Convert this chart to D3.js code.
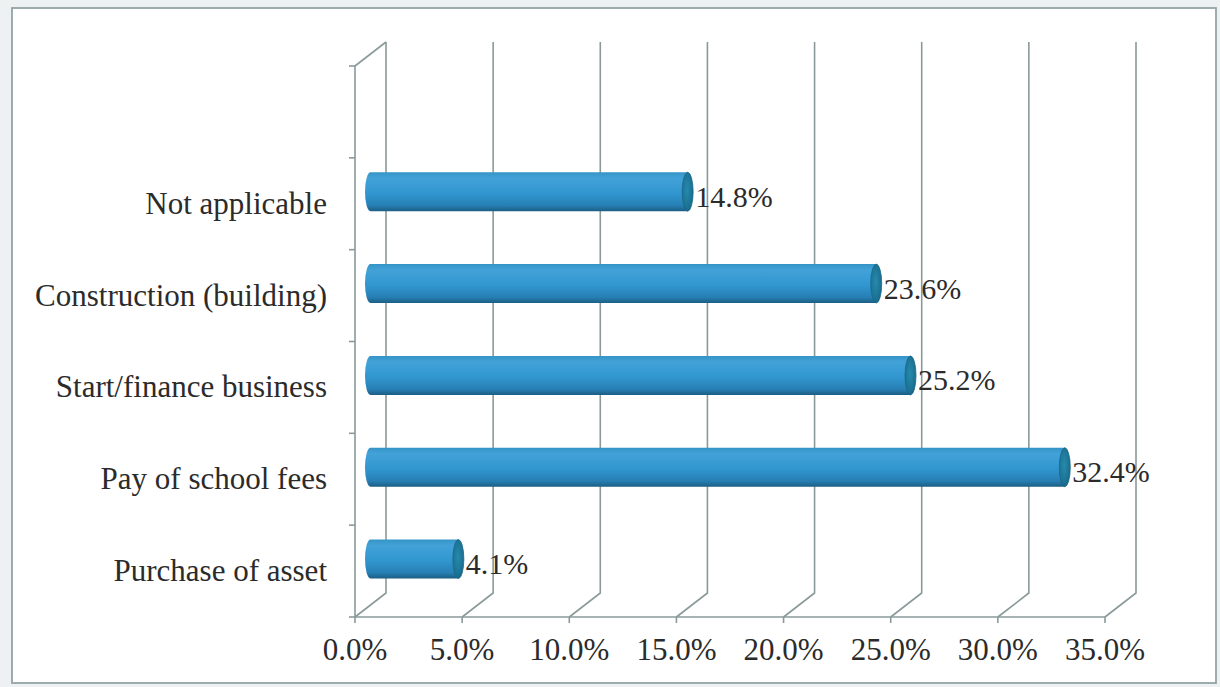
<!DOCTYPE html>
<html>
<head>
<meta charset="utf-8">
<script src="https://cdn.jsdelivr.net/npm/d3@7"></script>
<style>
  html, body { margin: 0; padding: 0; background: #eef1f1; }
  svg { display: block; }
  text { font-family: "Liberation Serif", "Times New Roman", serif; fill: #2b2b2b; }
</style>
</head>
<body>
<svg id="chart" width="1220" height="687"></svg>
<script>
// Uses of remittance money (share of respondents)
const categories = ["Purchase of asset", "Pay of school fees", "Start/finance business", "Construction (building)", "Not applicable"];
const values = [4.1, 32.4, 25.2, 23.6, 14.8];
const tickValues = [0, 5, 10, 15, 20, 25, 30, 35];
const tickLabels = ["0.0%", "5.0%", "10.0%", "15.0%", "20.0%", "25.0%", "30.0%", "35.0%"];

const svg = d3.select("#chart");

// frame
svg.append("rect").attr("x", 12).attr("y", 8).attr("width", 1204).attr("height", 675)
  .attr("fill", "#ffffff").attr("stroke", "#93a3a3").attr("stroke-width", 1.8);

// front plane and depth offset of the 3-D box
const x = d3.scaleLinear().domain([0, 35]).range([355, 1105]);
const yTop = 66, yBottom = 617;
const depthX = 31, depthY = -24;

// one empty slot above the last category
const slots = [...categories, "__blank"].reverse();
const y = d3.scaleBand().domain(slots).range([yTop, yBottom]).paddingInner(0).paddingOuter(0);

const gridColor = "#8a9a9a";
const grid = svg.append("g").attr("fill", "none").attr("stroke", gridColor).attr("stroke-width", 1.6);

// back-wall gridlines with their floor diagonals
tickValues.forEach(v => {
  const bx = x(v) + depthX;
  grid.append("path")
    .attr("d", `M${bx},${yTop + depthY} L${bx},${yBottom + depthY} L${x(v)},${yBottom}`);
});

// left wall edge: top diagonal + front vertical axis
grid.append("path").attr("d", `M${x(0)},${yTop} L${x(0) + depthX},${yTop + depthY}`);
grid.append("line").attr("x1", x(0)).attr("x2", x(0)).attr("y1", yTop).attr("y2", yBottom);

// category tick marks on the front axis
const bounds = slots.map(s => y(s)).concat([yBottom]);
bounds.forEach(b => {
  grid.append("line").attr("x1", x(0) - 6).attr("x2", x(0)).attr("y1", b).attr("y2", b);
});

// front horizontal axis with ticks
grid.append("line").attr("x1", x(0)).attr("x2", x(35)).attr("y1", yBottom).attr("y2", yBottom);
tickValues.forEach(v => {
  grid.append("line").attr("x1", x(v)).attr("x2", x(v)).attr("y1", yBottom).attr("y2", yBottom + 6);
});

// tick labels
svg.append("g").selectAll("text").data(tickValues).join("text")
  .attr("x", d => x(d)).attr("y", yBottom + 43)
  .attr("text-anchor", "middle").attr("font-size", 31)
  .text((d, i) => tickLabels[i]);

// category labels
svg.append("g").selectAll("text").data(categories).join("text")
  .attr("x", 327).attr("y", d => y(d) + y.bandwidth() / 2 + 10)
  .attr("text-anchor", "end").attr("font-size", 31)
  .text(d => d);

// cylinder shading
const defs = svg.append("defs");
const body = defs.append("linearGradient").attr("id", "cylBody")
  .attr("x1", 0).attr("y1", 0).attr("x2", 0).attr("y2", 1);
body.append("stop").attr("offset", "0%").attr("stop-color", "#3594c6");
body.append("stop").attr("offset", "15%").attr("stop-color", "#42a2d8");
body.append("stop").attr("offset", "55%").attr("stop-color", "#3196cf");
body.append("stop").attr("offset", "85%").attr("stop-color", "#277fb4");
body.append("stop").attr("offset", "100%").attr("stop-color", "#1b5e84");

const cap = defs.append("radialGradient").attr("id", "cylCap")
  .attr("cx", "45%").attr("cy", "45%").attr("r", "65%");
cap.append("stop").attr("offset", "0%").attr("stop-color", "#268aae");
cap.append("stop").attr("offset", "70%").attr("stop-color", "#1c7293");
cap.append("stop").attr("offset", "100%").attr("stop-color", "#155b78");

// bars sit halfway into the depth of the box
const barX = v => x(v) + depthX / 2;
const barH = 39, rx = 5.5;
const bars = svg.append("g");
categories.forEach((c, i) => {
  const v = values[i];
  const cy = y(c) + y.bandwidth() / 2 + depthY / 2;
  const x0 = barX(0), x1 = barX(v);
  const top = cy - barH / 2, bot = cy + barH / 2;
  const g = bars.append("g");
  g.append("path")
    .attr("d", `M${x1},${top} L${x0},${top} A${rx},${barH / 2} 0 0 0 ${x0},${bot} L${x1},${bot} Z`)
    .attr("fill", "url(#cylBody)");
  g.append("ellipse").attr("cx", x1).attr("cy", cy).attr("rx", rx).attr("ry", barH / 2)
    .attr("fill", "url(#cylCap)").attr("stroke", "#1a6a8c").attr("stroke-width", 0.8);
  // value label
  svg.append("text").attr("x", x1 + rx + 2).attr("y", cy + 15)
    .attr("font-size", 30).text(v.toFixed(1) + "%");
});
</script>
</body>
</html>
